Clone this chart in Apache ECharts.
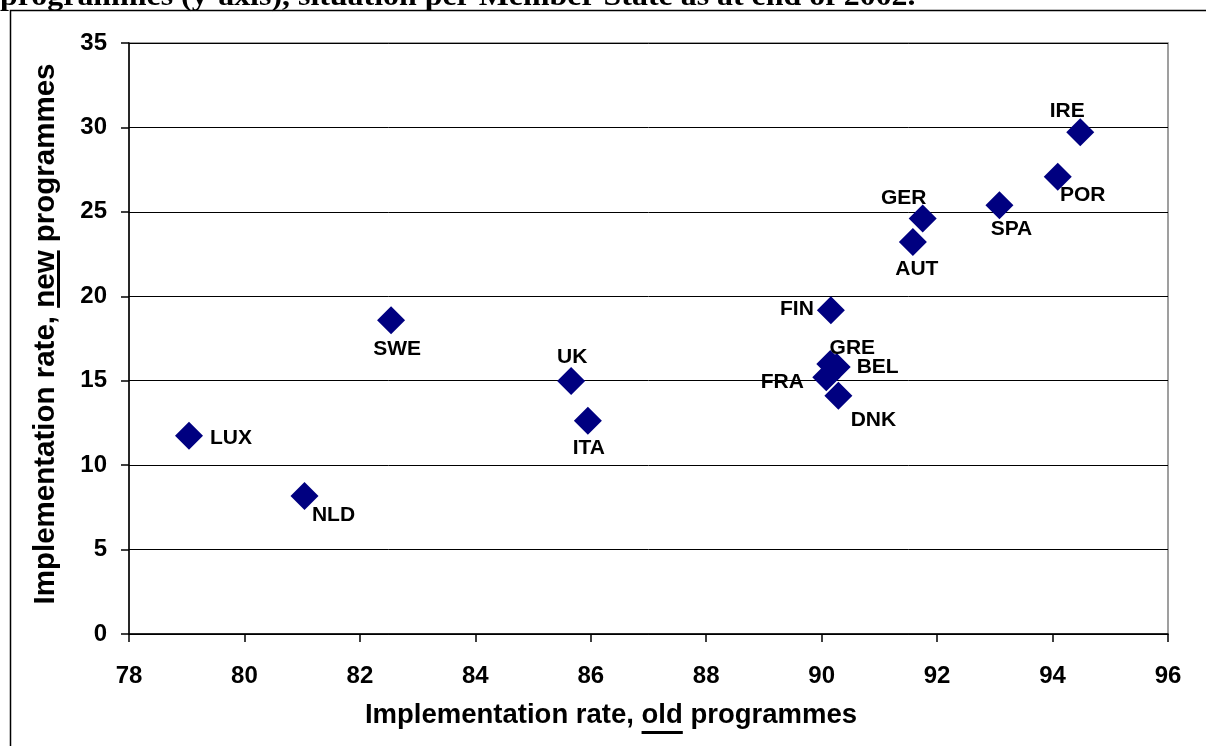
<!DOCTYPE html>
<html>
<head>
<meta charset="utf-8">
<script src="https://cdn.jsdelivr.net/npm/echarts@6/dist/echarts.min.js"></script>
<style>
  html, body { margin: 0; padding: 0; background: #fff; }
  #chart { width: 1206px; height: 746px; }
</style>
</head>
<body>
<div id="chart"></div>
<script>
// Member State codes and their implementation rates (%)
const countries = ['LUX', 'NLD', 'SWE', 'UK', 'ITA', 'GER', 'AUT', 'FIN', 'GRE', 'BEL', 'FRA', 'DNK', 'IRE', 'POR', 'SPA'];
const oldProgrammes = [79.04, 81.04, 82.54, 85.66, 85.95, 91.75, 91.58, 90.16, 90.15, 90.26, 90.08, 90.29, 94.48, 94.09, 93.08];
const newProgrammes = [11.74, 8.17, 18.58, 14.98, 12.63, 24.6, 23.21, 19.17, 15.99, 15.81, 15.2, 14.11, 29.71, 27.08, 25.39];

// Axis ranges
const xMin = 78, xMax = 96, xStep = 2;
const yMin = 0, yMax = 35, yStep = 5;

// Label placement around each marker (pixels from the marker centre)
const labelOffsets = {
  LUX: [42, 2], NLD: [29, 19], SWE: [6, 29], UK: [1, -24], ITA: [1, 27],
  GER: [-19, -20], AUT: [4, 27], FIN: [-34, -1], GRE: [22, -16], BEL: [41, 0],
  FRA: [-44, 5], DNK: [35, 24], IRE: [-13, -21], POR: [25, 18], SPA: [12, 24]
};

const sansFamily = '"Liberation Sans", Arial, sans-serif';

function measure(text, font) {
  const ctx = document.createElement('canvas').getContext('2d');
  ctx.font = font;
  return ctx.measureText(text).width;
}

// Axis title with one underlined word, built as a group centred on (0,0)
function underlinedTitle(before, word, after, size, underlineGap) {
  const font = 'bold ' + size + 'px ' + sansFamily;
  const wBefore = measure(before, font);
  const wWord = measure(word, font);
  const wAfter = measure(after, font);
  const total = wBefore + wWord + wAfter;
  const x0 = -total / 2;
  const mk = (txt, x) => ({
    type: 'text', x: x, y: 0,
    style: { text: txt, fontSize: size, fontWeight: 'bold', fontFamily: sansFamily,
             fill: '#000', align: 'left', verticalAlign: 'middle' }
  });
  return [
    mk(before, x0),
    mk(word, x0 + wBefore),
    mk(after, x0 + wBefore + wWord),
    { type: 'rect', shape: { x: x0 + wBefore, y: underlineGap, width: wWord, height: 3 },
      style: { fill: '#000' } }
  ];
}

const chart = echarts.init(document.getElementById('chart'), null, { renderer: 'canvas' });

const points = countries.map((c, i) => ({
  name: c,
  value: [oldProgrammes[i], newProgrammes[i]],
  label: { offset: labelOffsets[c] }
}));

chart.setOption({
  animation: false,
  backgroundColor: '#fff',
  grid: {
    left: 129, right: 38, top: 43, bottom: 112,
    show: true, borderColor: '#808080', borderWidth: 1.5, backgroundColor: 'transparent'
  },
  xAxis: {
    type: 'value', min: xMin, max: xMax, interval: xStep,
    axisLine: { show: true, onZero: false, lineStyle: { color: '#000', width: 1.5 } },
    axisTick: { show: true, length: 8, lineStyle: { color: '#000', width: 1.5 } },
    axisLabel: { margin: 30, fontSize: 24, lineHeight: 24, fontWeight: 'bold', fontFamily: sansFamily, color: '#000' },
    splitLine: { show: false }
  },
  yAxis: {
    type: 'value', min: yMin, max: yMax, interval: yStep,
    axisLine: { show: true, onZero: false, lineStyle: { color: '#000', width: 1.5 } },
    axisTick: { show: true, length: 8, lineStyle: { color: '#000', width: 1.5 } },
    axisLabel: { margin: 22, fontSize: 24, fontWeight: 'bold', fontFamily: sansFamily, color: '#000' },
    splitLine: { show: true, lineStyle: { color: '#000', width: 1 } }
  },
  series: [{
    type: 'scatter',
    symbol: 'diamond',
    symbolSize: 28,
    itemStyle: { color: '#000080', opacity: 1 },
    label: {
      show: true, position: 'inside',
      formatter: p => p.name,
      fontSize: 21, fontWeight: 'bold', fontFamily: sansFamily, color: '#000',
      align: 'center', verticalAlign: 'middle'
    },
    data: points
  }],
  graphic: [
    // outer frame of the chart area
    { type: 'rect', shape: { x: 10.5, y: 10.5, width: 1300, height: 800 },
      style: { fill: 'none', stroke: '#000', lineWidth: 1.5 }, z: 0 },
    // heading above the frame
    { type: 'text', x: 0, y: -2, scaleX: 1.1,
      style: { text: 'programmes (y-axis), situation per Member State as at end of 2002.',
               fontSize: 29, fontWeight: 'bold', fontFamily: '"Liberation Serif", "Times New Roman", serif',
               fill: '#000', align: 'left', verticalAlign: 'middle' } },
    // x axis title
    { type: 'group', x: 611, y: 715,
      children: underlinedTitle('Implementation rate, ', 'old', ' programmes', 27.5, 16) },
    // y axis title
    { type: 'group', x: 46, y: 334, rotation: Math.PI / 2,
      children: underlinedTitle('Implementation rate, ', 'new', ' programmes', 29.5, 11) }
  ]
});
</script>
</body>
</html>
